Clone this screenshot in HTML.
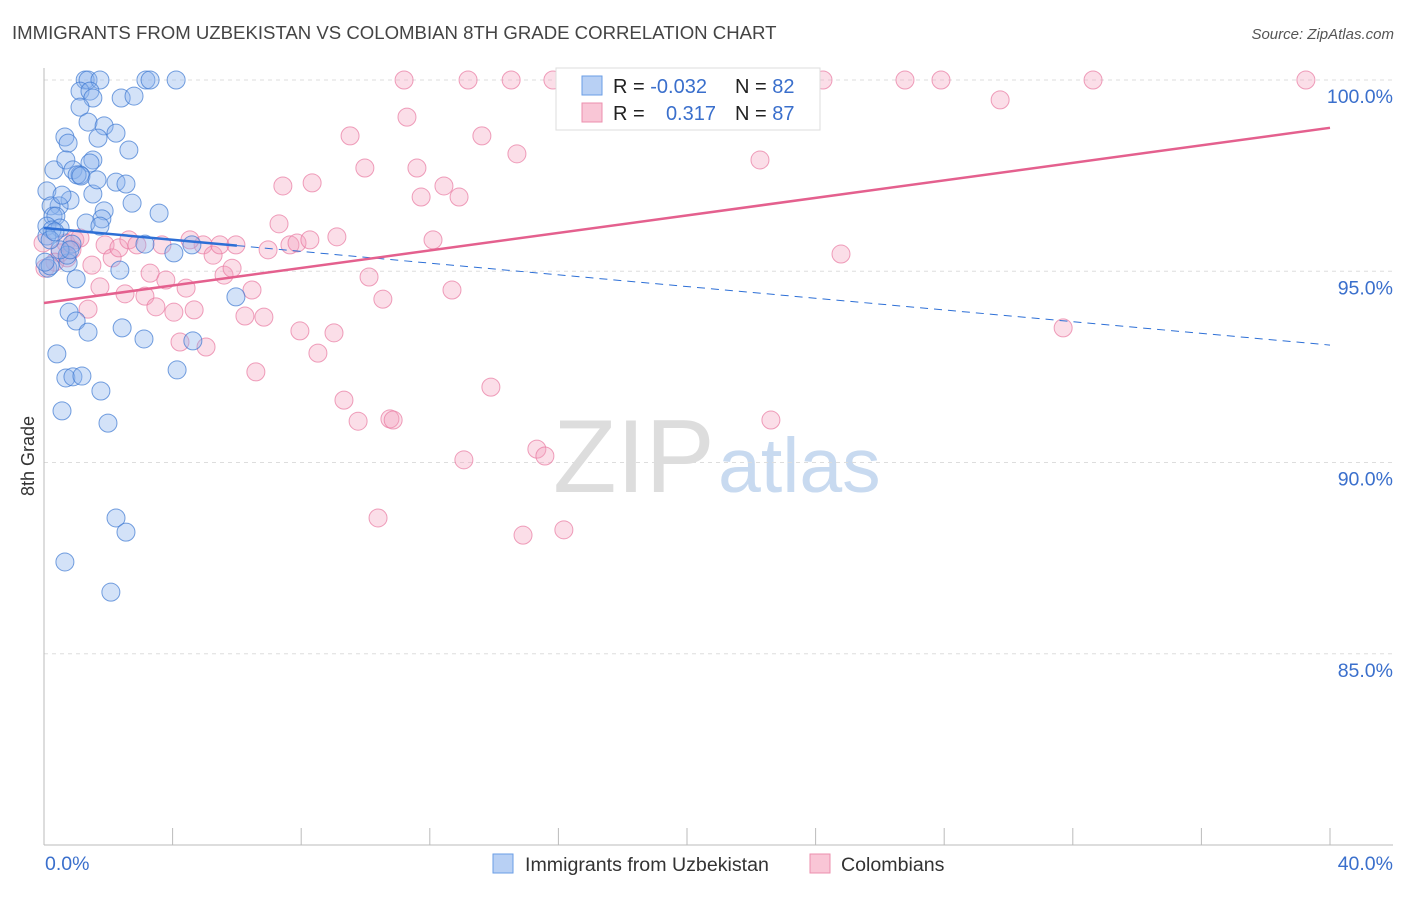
<!DOCTYPE html>
<html><head><meta charset="utf-8"><style>
body{margin:0;background:#fff;font-family:"Liberation Sans",sans-serif;}
svg text{font-family:"Liberation Sans",sans-serif;}
</style></head><body>
<svg id="c" width="1406" height="892">
<text x="12" y="39" font-size="18.6" fill="#444">IMMIGRANTS FROM UZBEKISTAN VS COLOMBIAN 8TH GRADE CORRELATION CHART</text>
<text x="1394" y="39" font-size="15" fill="#555" text-anchor="end" font-style="italic">Source: ZipAtlas.com</text>
<text x="34" y="456" font-size="18" fill="#333" transform="rotate(-90 34 456)" text-anchor="middle">8th Grade</text>
<text x="553" y="492" font-size="104" fill="#ddd" font-family="Liberation Serif">ZIP</text>
<text x="718" y="492" font-size="77" fill="#c8daf0">atlas</text>
<g id="grid"></g><g id="pts"></g><g id="trend"></g>
<g>
<rect x="556" y="68" width="264" height="62" fill="#fff" stroke="#ddd"/>
<rect x="582" y="76" width="20" height="19" fill="#b8d0f4" stroke="#6a9ee6"/>
<rect x="582" y="103" width="20" height="19" fill="#f9c6d6" stroke="#ec8fae"/>
<text x="613" y="93" font-size="20" fill="#222">R = <tspan fill="#3a6fcc">-0.032</tspan></text>
<text x="735" y="93" font-size="20" fill="#222">N = <tspan fill="#3a6fcc">82</tspan></text>
<text x="613" y="120" font-size="20" fill="#222">R =</text>
<text x="716" y="120" font-size="20" fill="#3a6fcc" text-anchor="end">0.317</text>
<text x="735" y="120" font-size="20" fill="#222">N = <tspan fill="#3a6fcc">87</tspan></text>
</g>
<g>
<rect x="493" y="854" width="20" height="19" fill="#b8d0f4" stroke="#6a9ee6"/>
<text x="525" y="871" font-size="19.6" fill="#333">Immigrants from Uzbekistan</text>
<rect x="810" y="854" width="20" height="19" fill="#f9c6d6" stroke="#ec8fae"/>
<text x="841" y="871" font-size="19.6" fill="#333">Colombians</text>
</g>
</svg>
<script>
const yTicks=[100,95,90,85];
const xTickLabels=["0.0%","40.0%"];
const bluePx=[[85,80],[88,80],[100,80],[146,80],[150,80],[176,80],[80,91],[90,91],[93,98],[121,98],[134,96],[80,107],[88,122],[104,126],[98,138],[116,133],[65,137],[68,143],[129,150],[54,170],[66,160],[73,170],[93,160],[90,163],[80,175],[77,175],[81,176],[116,182],[126,184],[47,191],[93,194],[97,180],[70,200],[59,206],[51,206],[104,211],[132,203],[159,213],[53,216],[56,216],[102,219],[86,223],[47,226],[60,228],[100,226],[52,230],[47,236],[72,244],[145,244],[174,253],[192,245],[48,268],[50,266],[68,263],[120,270],[76,279],[236,297],[69,312],[76,321],[88,332],[122,328],[144,339],[193,341],[57,354],[66,378],[73,377],[82,376],[101,391],[177,370],[62,411],[108,423],[116,518],[126,532],[65,562],[111,592],[67,255],[60,250],[50,240],[55,232],[45,262],[62,195],[70,250]];
const pinkPx=[[43,243],[66,243],[75,240],[80,238],[60,253],[72,250],[67,258],[55,262],[45,268],[88,309],[92,265],[100,287],[105,245],[112,258],[119,248],[125,294],[129,240],[137,245],[145,296],[150,273],[156,307],[162,245],[166,280],[174,312],[180,342],[186,288],[194,310],[203,245],[206,347],[213,255],[220,245],[224,275],[232,268],[236,245],[245,316],[252,290],[256,372],[264,317],[268,250],[279,224],[283,186],[290,245],[297,243],[300,331],[312,183],[310,240],[318,353],[334,333],[337,237],[344,400],[350,136],[358,421],[365,168],[369,277],[383,299],[378,518],[390,419],[393,420],[404,80],[407,117],[417,168],[421,197],[433,240],[444,186],[452,290],[459,197],[464,460],[468,80],[482,136],[491,387],[511,80],[517,154],[523,535],[537,449],[545,456],[553,80],[564,530],[760,160],[771,420],[823,80],[841,254],[905,80],[941,80],[1000,100],[1093,80],[1063,328],[1306,80],[190,240]];
// data values (x in %, y in %)
const blueX=bluePx.map(p=>+((p[0]-44)/1286*40).toFixed(2));
const blueY=bluePx.map(p=>+(100-(p[1]-80)/38.25).toFixed(2));
const pinkX=pinkPx.map(p=>+((p[0]-44)/1286*40).toFixed(2));
const pinkY=pinkPx.map(p=>+(100-(p[1]-80)/38.25).toFixed(2));
const blueTrend=[96.13,93.07];
const pinkTrend=[94.17,98.75];
const sx=v=>44+v/40*1286, sy=v=>80+(100-v)*38.25;
const NS="http://www.w3.org/2000/svg";
function mk(t,a,p){const e=document.createElementNS(NS,t);for(const k in a)e.setAttribute(k,a[k]);p.appendChild(e);return e;}
const grid=document.getElementById('grid');
yTicks.forEach(v=>{
 const l=mk('line',{x1:44,x2:1393,y1:sy(v),y2:sy(v),stroke:'#ddd','stroke-dasharray':'4 4'},grid);
 
 
 const t=mk('text',{x:1393,y:sy(v)+23,'font-size':19.5,fill:'#3a6fcc','text-anchor':'end'},grid);
 t.textContent=v.toFixed(1)+'%';
 
 
});
mk('line',{x1:44,x2:44,y1:68,y2:845,stroke:'#bbb'},grid);
mk('line',{x1:44,x2:1393,y1:845,y2:845,stroke:'#bbb'},grid);
for(let i=0;i<=10;i++){const x=sx(i*4);const tk=mk('line',{x1:x,x2:x,y1:828,y2:845,stroke:'#bbb'},grid);
 
 }
const x0=mk('text',{x:45,y:870,'font-size':19.5,fill:'#3a6fcc'},grid);x0.textContent=xTickLabels[0];


const x1=mk('text',{x:1393,y:870,'font-size':19.5,fill:'#3a6fcc','text-anchor':'end'},grid);x1.textContent=xTickLabels[1];


const pts=document.getElementById('pts');
pinkX.forEach((x,i)=>{const c=mk('circle',{cx:sx(x),cy:sy(pinkY[i]),r:9,fill:'rgba(244,160,188,0.35)',stroke:'rgba(232,120,160,0.7)','stroke-width':1},pts);
 
 });
blueX.forEach((x,i)=>{const c=mk('circle',{cx:sx(x),cy:sy(blueY[i]),r:9,fill:'rgba(140,180,236,0.38)',stroke:'rgba(60,120,210,0.7)','stroke-width':1},pts);
 
 });
const tr=document.getElementById('trend');
const by=x=>blueTrend[0]+(blueTrend[1]-blueTrend[0])*x/40;
const b1=mk('line',{x1:sx(0),y1:sy(by(0)),x2:sx(6),y2:sy(by(6)),stroke:'#2d6fd6','stroke-width':2.5},tr);


const b2=mk('line',{x1:sx(6),y1:sy(by(6)),x2:sx(40),y2:sy(by(40)),stroke:'#2d6fd6','stroke-width':1,'stroke-dasharray':'8 6'},tr);


const p1=mk('line',{x1:sx(0),y1:sy(pinkTrend[0]),x2:sx(40),y2:sy(pinkTrend[1]),stroke:'#e4608e','stroke-width':2.5},tr);


</script>
</body></html>
